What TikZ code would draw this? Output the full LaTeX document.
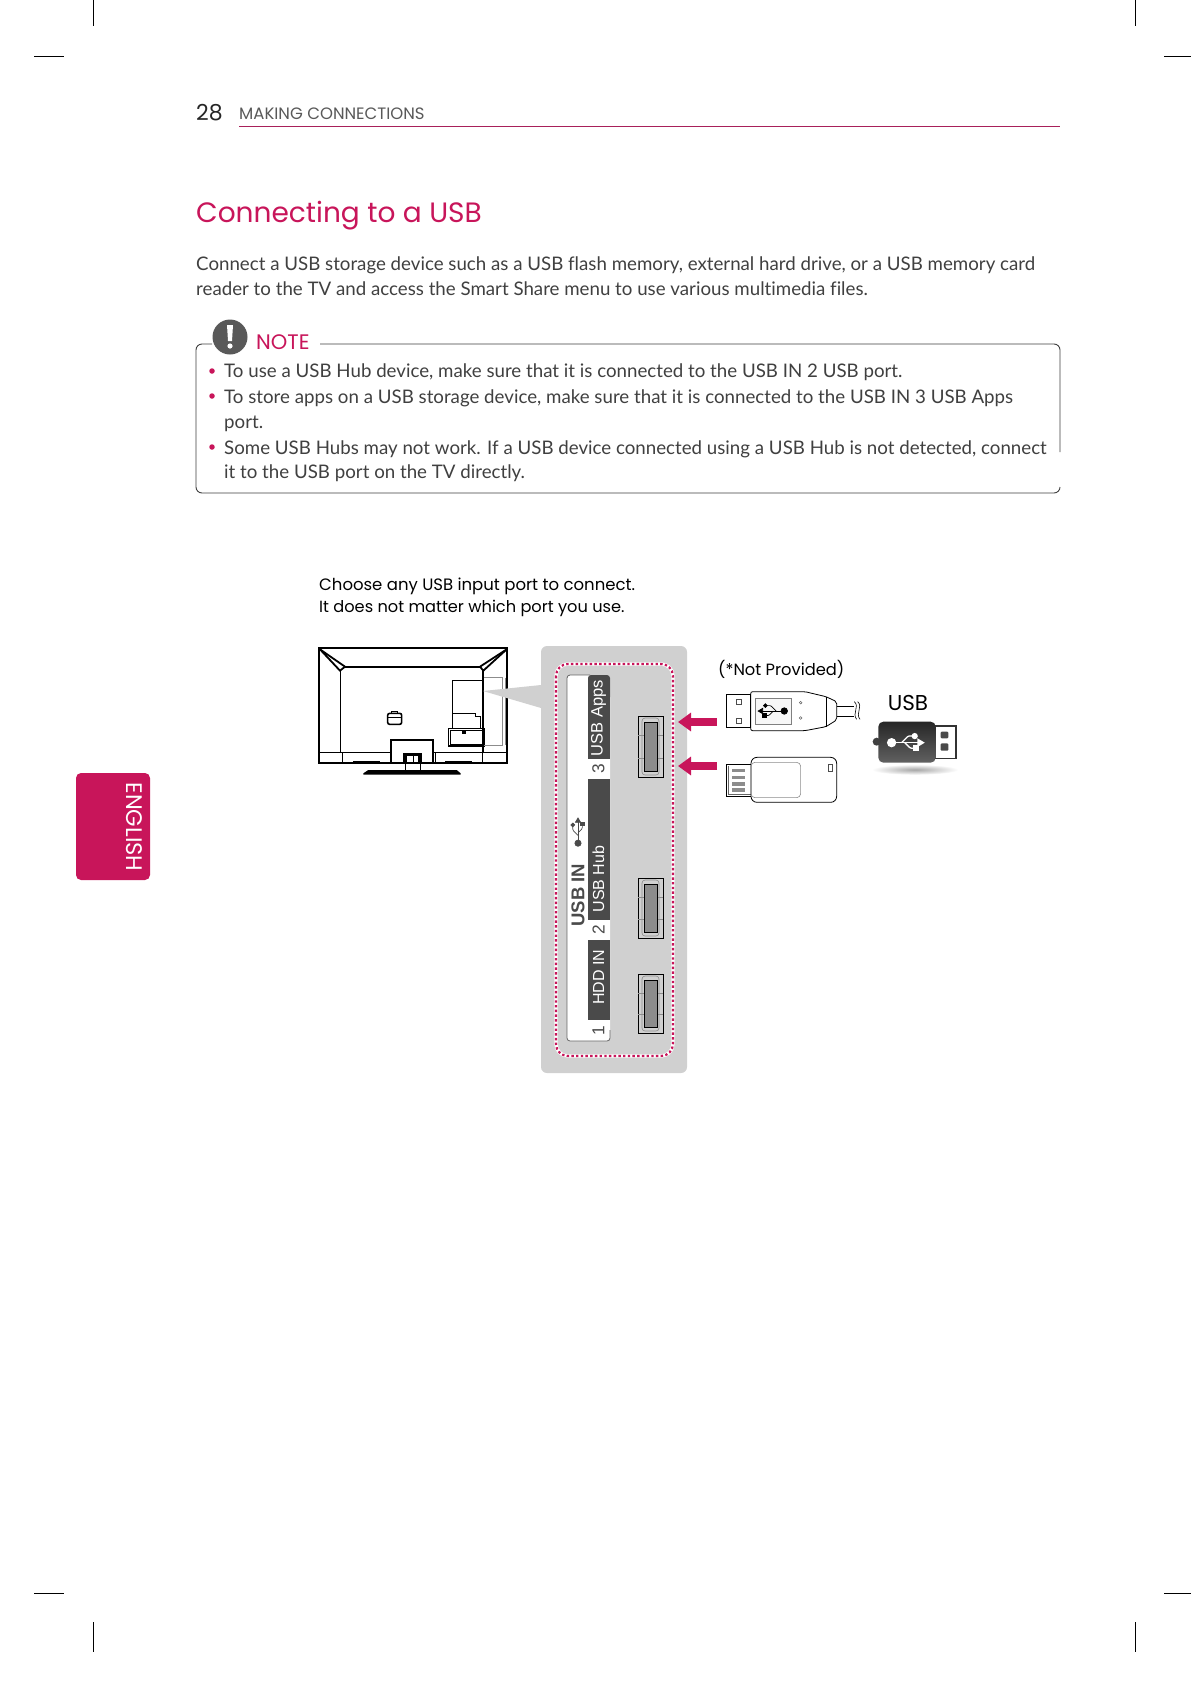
\documentclass[tikz,border=0pt]{standalone}
\usepackage{fontspec}
\setmainfont{Lato}[Ligatures=NoCommon]
\newfontfamily\stripfont{Liberation Sans}
\newfontfamily\headfont{Poppins}
\usetikzlibrary{arrows.meta,positioning}
\definecolor{lgred}{HTML}{C8155A}
\definecolor{rulered}{HTML}{A8205A}
\definecolor{panelgray}{HTML}{D0D0D0}
\definecolor{stripdark}{HTML}{4A4A4A}
\definecolor{bodytext}{HTML}{404040}
\newcommand{\fsize}[1]{\fontsize{#1}{#1}\selectfont}
\tikzset{
    usbsym/.pic={
        \draw[pic actions, fill=none] (-14,0) -- (11,0);
        \draw[pic actions, fill=none, rounded corners=1pt] (-5,0) -- (1,-6) -- (6,-6);
        \draw[pic actions, fill=none, rounded corners=1pt] (-2,0) -- (3,5) -- (7,5);
        \fill[pic actions] (-14,0) circle[radius=3.6];
        \fill[pic actions] (15,0) -- (10,-3) -- (10,3) -- cycle;
        \fill[pic actions] (7,-6) circle[radius=2.2];
        \fill[pic actions] (6,3) rectangle (10,7);
    }
}

\begin{document}
\begin{tikzpicture}[
    x=1pt, y=-1pt,
    cropmark/.style={black, line width=0.8pt},
    noteline/.style={anchor=base west, inner sep=0pt, text=bodytext, font=\fsize{18.7}},
    notedot/.style={circle, fill=lgred, inner sep=0pt, minimum size=5.5pt},
    caption/.style={anchor=base west, inner sep=0pt, text=black, font=\headfont\fsize{16.5}},
    striptext/.style={rotate=90, inner sep=0pt, text=white, font=\stripfont\fsize{16.5}},
    stripnum/.style={rotate=90, inner sep=0pt, text=stripdark, font=\stripfont\fsize{17.3}},
    tvline/.style={black, line width=0.7pt},
    tvthick/.style={black, line width=1.8pt},
    portbox/.style={draw=black, fill=black!45, line width=1pt},
    pointer/.style={lgred, line width=8pt, -{Triangle[length=13pt, width=18pt]}},
    device/.style={black, line width=0.8pt},
]
\useasboundingbox (0,0) rectangle (1191,1684);
\fill[white] (0,0) rectangle (1191,1684);

% --- Crop marks ---
\foreach \x in {93.5,1135} {
    \draw[cropmark] (\x,0) -- (\x,26);
    \draw[cropmark] (\x,1622) -- (\x,1652);
}
\foreach \y in {56,1593} {
    \draw[cropmark] (34,\y) -- (64,\y);
    \draw[cropmark] (1164,\y) -- (1191,\y);
}

% --- Page header ---
\node[anchor=base west, inner sep=0pt, text=black!85, font=\headfont\fsize{22}] (pagenum) at (196,120) {28};
\node[anchor=base west, inner sep=0pt, text=black!65, font=\headfont\fsize{16.5}] (header) at (239,119) {MAKING CONNECTIONS};
\draw[rulered, line width=0.9pt] (239,126) -- (1060,126);

% --- Side tab ---
\fill[lgred, rounded corners=5pt] (76,773) rectangle (150,880);
\node[rotate=-90, inner sep=0pt, text=white, font=\headfont\fsize{22.5}] (tab) at (134,827) {ENGLISH};

% --- Title and intro ---
\node[anchor=base west, inner sep=0pt, text=lgred, font=\headfont\fsize{28}] (title) at (196,222) {Connecting to a USB};
\node[noteline] (introa) at (196,270) {Connect a USB storage device such as a USB flash memory, external hard drive, or a USB memory card};
\node[noteline] (introb) at (196,295) {reader to the TV and access the Smart Share menu to use various multimedia files.};

% --- Note box ---
\draw[black!75, line width=0.9pt, rounded corners=6pt] (1060,452) -- (1060,344) -- (320,344);
\draw[black!75, line width=0.9pt, rounded corners=6pt] (212,344) -- (196,344) -- (196,493) -- (1060,493) -- (1060,487);
\fill[black!65] (230,337) circle[radius=17.5];
\fill[white] (227,325) -- (233,325) -- (232,341) -- (228,341) -- cycle;
\fill[white] (230,346) circle[radius=2.6];
\node[anchor=base west, inner sep=0pt, text=lgred, font=\headfont\fsize{21}] (notehead) at (256,349) {NOTE};
\node[notedot] (dota) at (212,371) {};
\node[notedot] (dotb) at (212,396) {};
\node[notedot] (dotc) at (212,447) {};
\node[noteline] (notea) at (224,377) {To use a USB Hub device, make sure that it is connected to the USB IN 2 USB port.};
\node[noteline] (noteb) at (224,403) {To store apps on a USB storage device, make sure that it is connected to the USB IN 3 USB Apps};
\node[noteline] (notec) at (224,428) {port.};
\node[noteline] (noted) at (224,454) {Some USB Hubs may not work. If a USB device connected using a USB Hub is not detected, connect};
\node[noteline] (notee) at (224,478) {it to the USB port on the TV directly.};

% --- Captions ---
\node[caption] (capa) at (319,590) {Choose any USB input port to connect.};
\node[caption, font=\headfont\fsize{16.2}] (capb) at (319,612) {It does not matter which port you use.};

% --- TV rear view ---
\begin{scope}[shift={(300,630)}, scale=1/3]
\draw[tvthick] (58,55) rectangle (622,400);
\draw[tvthick] (135,110) -- (540,110);
\draw[tvthick] (60,58) -- (135,110);
\draw[tvthick] (60,58) -- (120,122) -- (135,110);
\draw[tvthick] (620,58) -- (540,110);
\draw[tvthick] (620,58) -- (550,122) -- (540,110);
\draw[tvline] (120,122) -- (120,368);
\draw[tvthick] (550,122) -- (550,368);
\draw[tvline] (55,368) -- (272,368);
\draw[tvline] (400,368) -- (622,368);
\foreach \x in {127,405,548} {
    \draw[tvline] (\x,368) -- (\x,400);
}
\fill[black] (160,393) rectangle (240,398);
\fill[black] (435,393) rectangle (515,398);
% Stand
\draw[tvthick] (272,400) -- (272,330) -- (400,330) -- (400,400);
\fill[black] (308,368) rectangle (366,400);
\fill[white] (320,378) rectangle (355,397);
\draw[tvline] (340,372) -- (340,400);
\draw[tvline] (316,400) -- (316,420);
\draw[tvline] (360,400) -- (360,420);
\fill[black] (190,430) -- (205,420) -- (470,420) -- (482,430) -- (482,434) -- (190,434) -- cycle;
% Handle
\draw[black, line width=1.6pt, rounded corners=2pt] (263,250) rectangle (305,283);
\draw[tvline] (263,262) -- (305,262);
\draw[tvline] (275,250) -- (275,243) -- (293,243) -- (293,250);
% Terminal panel
\draw[tvline] (457,150) rectangle (550,295);
\draw[tvline] (457,250) -- (525,250) -- (525,260) -- (542,260) -- (542,295);
\draw[black, line width=1.2pt] (446,296) rectangle (552,348);
\draw[tvline] (452,302) rectangle (546,342);
\fill[black] (486,303) rectangle (498,313);
\draw[black!45, line width=0.7pt] (552,143) -- (608,143) -- (608,345) -- (552,345);
\draw[black!45, line width=0.7pt] (615,143) -- (615,345);
\end{scope}

% --- Grey port panel ---
\fill[panelgray] (483,691) -- (541,685) -- (541,708) -- cycle;
\fill[panelgray, rounded corners=6pt] (541,646) rectangle (687,1073);
\draw[white, line width=3.4pt, rounded corners=12pt] (556,664) rectangle (673,1056);
\draw[lgred, line width=2.2pt, dash pattern=on 2.4pt off 2.3pt, rounded corners=12pt] (556,664) rectangle (673,1056);

% Label strip
\fill[white, rounded corners=3pt] (567,675) rectangle (610,1041);
\draw[black!60, line width=0.8pt, rounded corners=3pt] (610,1030) -- (610,1041) -- (567,1041) -- (567,675) -- (590,675);
\fill[stripdark, rounded corners=3pt] (588,675) rectangle (610,700);
\fill[stripdark] (588,685) rectangle (610,759);
\fill[stripdark] (588,779) rectangle (610,920);
\fill[stripdark] (588,940) rectangle (610,1020);
\node[striptext] (apps) at (598.5,718) {USB Apps};
\node[stripnum] (numc) at (598.5,769) {3};
\node[striptext, font=\stripfont\fsize{16}] (hub) at (598.5,879) {USB Hub};
\node[stripnum] (numb) at (598.5,930) {2};
\node[striptext, font=\stripfont\fsize{16}] (hdd) at (598.5,977) {HDD IN};
\node[stripnum] (numa) at (598.5,1031) {1};
\node[rotate=90, inner sep=0pt, text=stripdark, font=\stripfont\bfseries\fsize{18.5}] (usbin) at (578,895) {USB IN};
\pic[fill=stripdark, draw=stripdark, line width=0.7pt, rotate=90, scale=0.87] (symstrip) at (578,831) {usbsym};

% Ports
\foreach \a/\b in {716/777,878/938,974/1033} {
    \draw[black, line width=0.8pt] (638,\a) rectangle (663,\b);
    \draw[black!45, line width=0.6pt, rounded corners=3pt] (642,\a+2) rectangle (659,\b-2);
    \draw[black!45, line width=0.5pt] (638,\a+19) -- (644,\a+19);
    \draw[black!45, line width=0.5pt] (657,\a+19) -- (663,\a+19);
    \draw[black!45, line width=0.5pt] (638,\b-19) -- (644,\b-19);
    \draw[black!45, line width=0.5pt] (657,\b-19) -- (663,\b-19);
    \draw[portbox] (644,\a+6) rectangle (657,\b-6);
}

% --- Arrows ---
\coordinate (taila) at (717,722);
\coordinate (tipa) at (678,722);
\coordinate (tailb) at (717,766);
\coordinate (tipb) at (678,766);
\draw[pointer] (taila) -- (tipa);
\draw[pointer] (tailb) -- (tipb);

% --- Devices ---
\node[anchor=base west, inner sep=0pt, text=black, font=\headfont\fsize{16.3}] (notprov) at (718,675) {(*Not Provided)};
\node[anchor=base, inner sep=0pt, text=black, font=\headfont\fsize{21.5}] (usblabel) at (908,710) {USB};

\begin{scope}[shift={(670,650)}, scale=1/3]
% Cable plug
\draw[device] (168,133) rectangle (242,233);
\draw[black!70, line width=0.5pt] (200,148) rectangle (215,163);
\draw[black!70, line width=0.5pt] (200,206) rectangle (215,221);
\draw[device, rounded corners=2pt] (242,125) -- (405,125) -- (468,140) -- (500,155) -- (500,210) -- (468,230) -- (405,242) -- (242,242) -- cycle;
\draw[black!50, line width=0.6pt, fill=black!3] (255,145) rectangle (365,222);
\draw[black!60, line width=0.5pt] (392,158) circle[radius=4];
\draw[black!60, line width=0.5pt] (392,204) circle[radius=4];
\draw[device] (468,140) -- (468,230);
\draw[device] (500,170) -- (552,170);
\draw[device] (500,198) -- (552,198);
\draw[black, line width=0.6pt] (553,155) .. controls (570,170) and (545,190) .. (560,208);
\draw[black, line width=0.6pt] (563,155) .. controls (580,170) and (555,190) .. (570,208);
\pic[fill=black, draw=black, line width=0.7pt, xscale=-1, scale=0.9] (symplug) at (305,183) {usbsym};
% Flash drive
\draw[device] (170,343) rectangle (245,438);
\draw[black!60, line width=0.5pt] (176,349) -- (176,432) -- (245,432);
\foreach \y in {357,377,397,415} {
    \fill[black!45] (185,\y) rectangle (225,\y+10);
}
\draw[device, rounded corners=6pt, fill=white] (243,322) rectangle (500,457);
\draw[black!45, line width=0.6pt, rounded corners=4pt] (243,337) rectangle (392,443);
\draw[black!70, line width=0.5pt] (475,343) rectangle (487,365);
% USB icon
\draw[black!80, line width=1.2pt, fill=white] (790,228) rectangle (858,325);
\fill[stripdark, rounded corners=1pt] (812,245) rectangle (835,265);
\fill[stripdark, rounded corners=1pt] (812,280) rectangle (835,302);
\shade[inner color=black!35, outer color=white, yscale=0.12] (735,2990) circle[radius=130];
\shade[top color=black!85, bottom color=black!62, rounded corners=5pt] (625,215) rectangle (797,338);
\fill[black!75] (620,275) circle[radius=12];
\pic[fill=white, draw=white, line width=1.3pt, scale=1.1] (symicon) at (711,278) {usbsym};
\end{scope}

\end{tikzpicture}
\end{document}
